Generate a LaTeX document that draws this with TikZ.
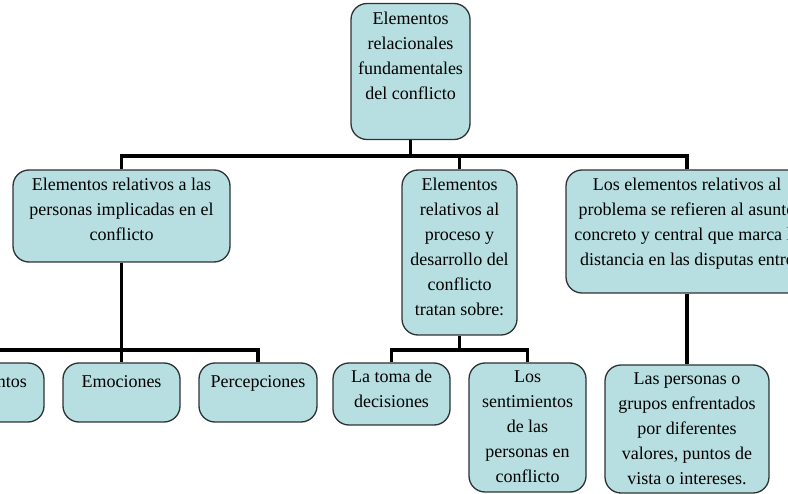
\documentclass[tikz,border=0pt]{standalone}
\usepackage{fontspec}
\setmainfont{Liberation Serif}
\definecolor{boxfill}{RGB}{183,222,224}
\definecolor{boxline}{RGB}{45,50,50}
\begin{document}
\begin{tikzpicture}[x=1pt,y=-1pt,
  box/.style={draw=boxline, line width=1.3pt, fill=boxfill, rounded corners=16pt, inner sep=0pt},
  txt/.style={inner sep=0pt, align=center, anchor=north, font=\fontsize{18}{25}\selectfont, execute at begin node={\rule{0pt}{17.5pt}}},
  link/.style={line width=3.3pt, black}]
\useasboundingbox (0,0) rectangle (788,494);
\clip (0,0) rectangle (788,494);
% boxes
\node[box, minimum width=119pt, minimum height=136pt] (top) at (410.5,71.5) {};
\node[box, minimum width=217pt, minimum height=92pt] (pers) at (121.5,216) {};
\node[box, minimum width=115pt, minimum height=165pt] (proc) at (459.5,252.5) {};
\node[box, minimum width=242pt, minimum height=123pt] (prob) at (687,231.5) {};
\node[box, minimum width=117pt, minimum height=59pt] (ntos) at (-14.5,392.5) {};
\node[box, minimum width=117pt, minimum height=59pt] (emo) at (121.5,392.5) {};
\node[box, minimum width=118pt, minimum height=59pt] (perc) at (258,392.5) {};
\node[box, minimum width=117pt, minimum height=62pt] (toma) at (391.5,394) {};
\node[box, minimum width=117pt, minimum height=129pt] (sent) at (527.5,427.5) {};
\node[box, minimum width=164pt, minimum height=128pt] (grupos) at (687,429) {};
% texts
\node[txt] (topt) at ([yshift=-8.5pt]top.north) {Elementos\\relacionales\\fundamentales\\del conflicto};
\node[txt] (perst) at ([yshift=-8pt]pers.north) {Elementos relativos a las\\personas implicadas en el\\conflicto};
\node[txt] (proct) at ([yshift=-8pt]proc.north) {Elementos\\relativos al\\proceso y\\desarrollo del\\conflicto\\tratan sobre:};
\node[txt] (probt) at ([yshift=-8pt]prob.north) {Los elementos relativos al\\problema se refieren al asunto\\concreto y central que marca la\\distancia en las disputas entre};
\node[txt, anchor=north east] (ntost) at ([xshift=41.5pt,yshift=-7.5pt]ntos.north) {ntos};
\node[txt] (emot) at ([yshift=-7.5pt]emo.north) {Emociones};
\node[txt] (perct) at ([yshift=-7.5pt]perc.north) {Percepciones};
\node[txt] (tomat) at ([yshift=-7.5pt]toma.north) {La toma de\\decisiones};
\node[txt] (sentt) at ([yshift=-8.5pt]sent.north) {Los\\sentimientos\\de las\\personas en\\conflicto};
\node[txt] (grupost) at ([yshift=-8pt]grupos.north) {Las personas o\\grupos enfrentados\\por diferentes\\valores, puntos de\\vista o intereses.};
% connectors
\coordinate (bar1) at (410.5,156);
\coordinate (bar2) at (121.5,350);
\coordinate (bar3) at (459.5,350);
\draw[link] (top.south) -- (bar1);
\draw[link] (pers.north) |- (bar1);
\draw[link] (prob.north) |- (bar1);
\draw[link] (proc.north) |- (bar1);
\draw[link] (pers.south) -- (emo.north);
\draw[link] (ntos.north) |- (bar2);
\draw[link] (perc.north) |- (bar2);
\draw[link] (proc.south) -- (bar3);
\draw[link] (toma.north) |- (bar3);
\draw[link] (sent.north) |- (bar3);
\draw[link] (prob.south) -- (grupos.north);
\end{tikzpicture}
\end{document}
